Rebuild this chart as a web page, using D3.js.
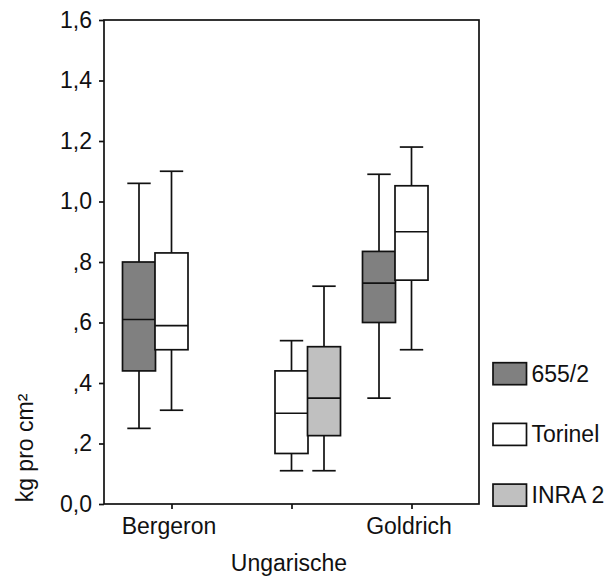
<!DOCTYPE html>
<html>
<head>
<meta charset="utf-8">
<script src="https://cdn.jsdelivr.net/npm/d3@7"></script>
<style>
  html, body { margin: 0; padding: 0; background: #fff; }
  svg text { font-family: "Liberation Sans", Arial, Helvetica, sans-serif; fill: #111; }
</style>
</head>
<body>
<svg id="chart" width="612" height="577"></svg>
<script>
// ---- data ----
const categories = ["Bergeron", "Ungarische", "Goldrich"];
const seriesNames = ["655/2", "Torinel", "INRA 2"];
const seriesColors = ["#808080", "#ffffff", "#c0c0c0"];
// five-number summaries per category: [lower whisker, Q1, median, Q3, upper whisker]
const box655_2   = [[0.25, 0.44, 0.61, 0.80, 1.06], null, [0.35, 0.60, 0.73, 0.835, 1.09]];
const boxTorinel = [[0.31, 0.51, 0.59, 0.83, 1.10], [0.11, 0.167, 0.30, 0.44, 0.54], [0.51, 0.74, 0.90, 1.052, 1.18]];
const boxINRA2   = [null, [0.11, 0.226, 0.35, 0.52, 0.72], null];
const yTickValues = [0, 0.2, 0.4, 0.6, 0.8, 1.0, 1.2, 1.4, 1.6];
const yTickLabels = ["0,0", ",2", ",4", ",6", ",8", "1,0", "1,2", "1,4", "1,6"];
const yTitle = "kg pro cm²";

const seriesData = [box655_2, boxTorinel, boxINRA2];

// ---- layout ----
const svg = d3.select("#chart");
const plot = { left: 104, right: 479, top: 20, bottom: 504 };
const fontSize = 23;
const ink = "#111";
const sw = 1.7;

const y = d3.scaleLinear().domain([0, 1.6]).range([plot.bottom, plot.top]);
const x = d3.scalePoint().domain(categories).range([plot.left, plot.right]).padding(0.5625);
const sub = d3.scalePoint().domain(seriesNames).range([-32.5, 32.5]);
const boxW = 33, capW = 23.4;

// frame
svg.append("rect")
  .attr("x", plot.left).attr("y", plot.top)
  .attr("width", plot.right - plot.left).attr("height", plot.bottom - plot.top)
  .attr("fill", "none").attr("stroke", ink).attr("stroke-width", sw);

// y axis
const yAxis = d3.axisLeft(y).tickValues(yTickValues)
  .tickFormat((d, i) => yTickLabels[i]).tickSize(5).tickSizeOuter(0).tickPadding(7);
const gy = svg.append("g").attr("transform", `translate(${plot.left},0)`).call(yAxis);
gy.select(".domain").remove();
gy.selectAll(".tick line").attr("stroke", ink).attr("stroke-width", sw);
gy.selectAll(".tick text").attr("font-size", fontSize).attr("fill", "#111")
  .style("font-family", '"Liberation Sans", Arial, sans-serif');

// x axis
const xAxis = d3.axisBottom(x).tickSize(5).tickSizeOuter(0).tickPadding(9);
const gx = svg.append("g").attr("transform", `translate(0,${plot.bottom})`).call(xAxis);
gx.select(".domain").remove();
gx.selectAll(".tick line").attr("stroke", ink).attr("stroke-width", sw);
gx.selectAll(".tick text").attr("font-size", fontSize).attr("fill", "#111")
  .style("font-family", '"Liberation Sans", Arial, sans-serif')
  .attr("dx", -3)
  .attr("y", (d, i) => i % 2 === 1 ? 14 + 37 : 14);

// y title
svg.append("text")
  .attr("transform", `translate(33,448) rotate(-90)`)
  .attr("text-anchor", "middle")
  .attr("font-size", fontSize)
  .text(yTitle);

// boxes
seriesNames.forEach((s, si) => {
  const data = seriesData[si];
  categories.forEach((c, ci) => {
    const b = data[ci];
    if (!b) return;
    const cx = x(c) + sub(s);
    const g = svg.append("g");
    // whiskers
    g.append("line").attr("x1", cx).attr("x2", cx).attr("y1", y(b[3])).attr("y2", y(b[4]))
      .attr("stroke", ink).attr("stroke-width", sw);
    g.append("line").attr("x1", cx).attr("x2", cx).attr("y1", y(b[0])).attr("y2", y(b[1]))
      .attr("stroke", ink).attr("stroke-width", sw);
    g.append("line").attr("x1", cx - capW / 2).attr("x2", cx + capW / 2).attr("y1", y(b[4])).attr("y2", y(b[4]))
      .attr("stroke", ink).attr("stroke-width", sw);
    g.append("line").attr("x1", cx - capW / 2).attr("x2", cx + capW / 2).attr("y1", y(b[0])).attr("y2", y(b[0]))
      .attr("stroke", ink).attr("stroke-width", sw);
    // box
    g.append("rect").attr("x", cx - boxW / 2).attr("width", boxW)
      .attr("y", y(b[3])).attr("height", y(b[1]) - y(b[3]))
      .attr("fill", seriesColors[si]).attr("stroke", ink).attr("stroke-width", sw);
    // median
    g.append("line").attr("x1", cx - boxW / 2).attr("x2", cx + boxW / 2).attr("y1", y(b[2])).attr("y2", y(b[2]))
      .attr("stroke", ink).attr("stroke-width", sw);
  });
});

// legend
const legend = svg.append("g");
seriesNames.forEach((s, i) => {
  const top = 362.7 + i * 60.7;
  legend.append("rect").attr("x", 493).attr("y", top).attr("width", 33.5).attr("height", 22)
    .attr("fill", seriesColors[i]).attr("stroke", ink).attr("stroke-width", sw);
  legend.append("text").attr("x", 531.5).attr("y", top + 19)
    .attr("font-size", fontSize).text(s);
});
</script>
</body>
</html>
